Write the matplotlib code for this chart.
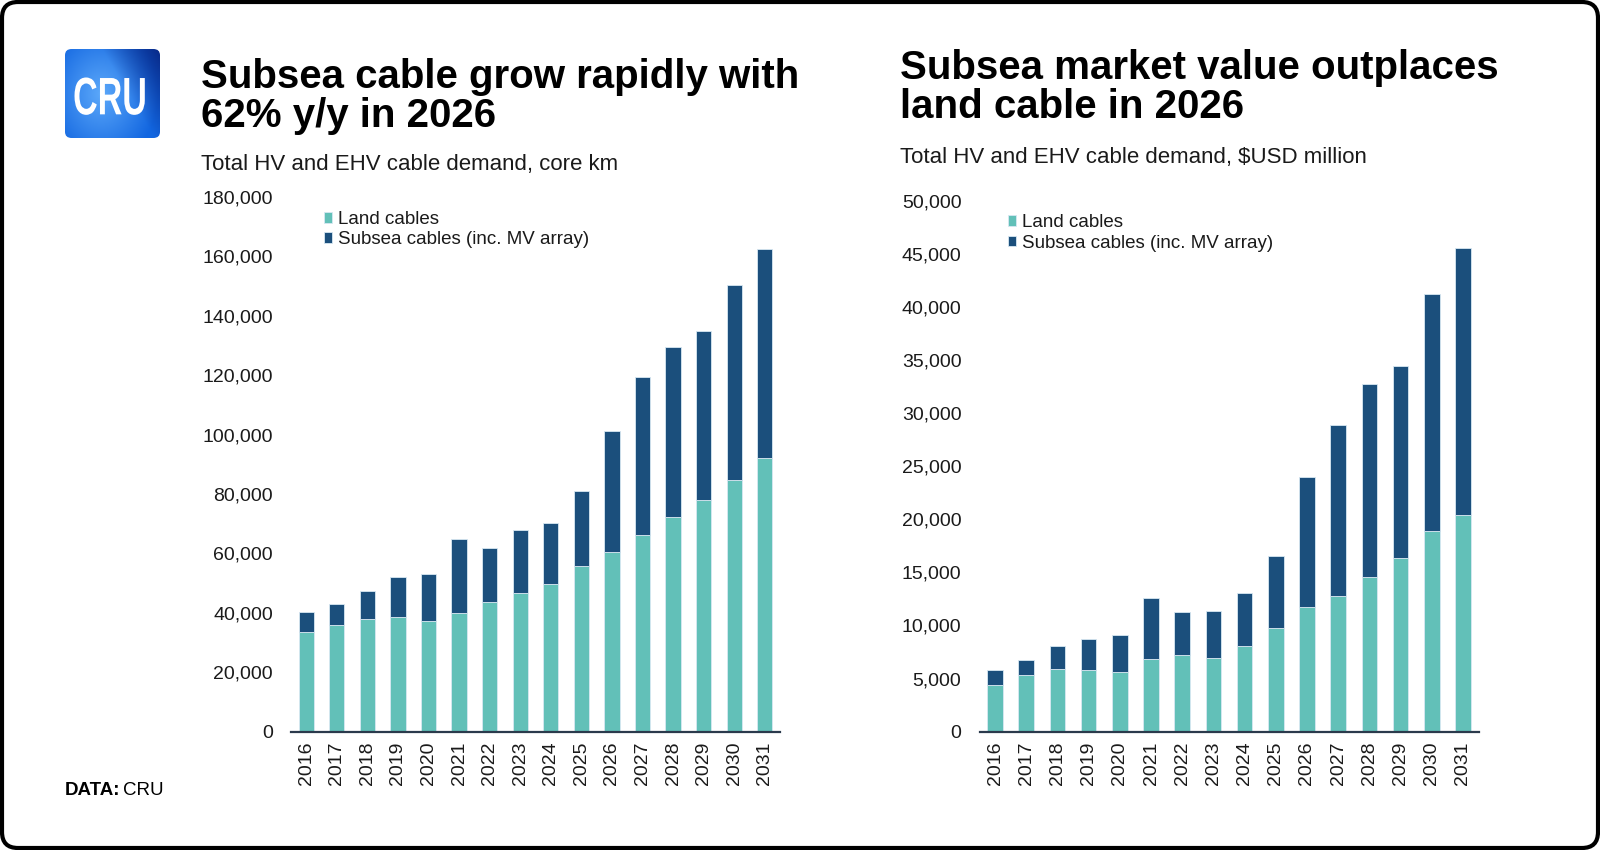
import matplotlib
matplotlib.use('Agg')
import matplotlib.pyplot as plt
import numpy as np
from matplotlib.patches import FancyBboxPatch, PathPatch
from matplotlib.textpath import TextPath
from matplotlib.font_manager import FontProperties
from matplotlib.transforms import Affine2D
from matplotlib.ticker import FuncFormatter

plt.rcParams['font.family'] = ['Liberation Sans', 'DejaVu Sans']

years = [str(y) for y in range(2016, 2032)]

# core km
land_km = [33400, 35900, 37900, 38700, 37300, 40100, 43600, 46500,
           49800, 55700, 60400, 66300, 72300, 77900, 84800, 92100]
subsea_km = [6800, 7000, 9300, 13200, 15900, 24700, 18300, 21300,
             20600, 25300, 40800, 53200, 57300, 57000, 65600, 70500]

# $USD million
land_usd = [4370, 5350, 5940, 5790, 5660, 6830, 7200, 6950,
            8020, 9750, 11760, 12800, 14560, 16320, 18870, 20440]
subsea_usd = [1420, 1440, 2140, 2920, 3460, 5780, 4030, 4440,
              5000, 6760, 12270, 16060, 18200, 18130, 22340, 25170]

LAND = '#62c0b8'
SUBSEA = '#1b4f7c'
EDGE = '#d8e8f2'
TXT = '#1a1a1a'

W, H = 1600, 850
fig = plt.figure(figsize=(16, 8.5), dpi=100)


def px(x, y):
    # pixel position (from top-left) -> figure fraction
    return x / W, 1 - y / H


def panel(rect, land, subsea, ymax, step, leg_anchor):
    ax = fig.add_axes(rect)
    x = np.arange(len(years))
    ax.bar(x, land, width=0.5, color=LAND, edgecolor=EDGE, linewidth=0.6,
           label='Land cables')
    ax.bar(x, subsea, width=0.5, bottom=land, color=SUBSEA, edgecolor=EDGE,
           linewidth=0.6, label='Subsea cables (inc. MV array)')
    ax.set_xlim(-0.5, len(years) - 0.5)
    ax.set_ylim(0, ymax)
    ax.set_yticks(np.arange(0, ymax + 1, step))
    ax.yaxis.set_major_formatter(FuncFormatter(lambda v, p: f'{v:,.0f}'))
    ax.set_xticks(x, years, rotation=90)
    for s in ['top', 'right', 'left']:
        ax.spines[s].set_visible(False)
    ax.spines['bottom'].set_color('#2b3a4c')
    ax.spines['bottom'].set_linewidth(1.6)
    ax.tick_params(axis='y', length=0, labelsize=14, pad=13, colors=TXT)
    ax.tick_params(axis='x', length=0, labelsize=14, pad=7, colors=TXT)
    ax.legend(loc='upper left', bbox_to_anchor=leg_anchor, frameon=False,
              fontsize=13.5, handlelength=0.45, handleheight=0.5,
              handletextpad=0.3, labelspacing=0.18, borderpad=0,
              borderaxespad=0, labelcolor=TXT)
    return ax


panel([291 / W, 1 - 731.6 / H, 489 / W, 534.6 / H],
      land_km, subsea_km, 180000, 20000, (0.067, 0.974))
panel([979.5 / W, 1 - 731.6 / H, 499 / W, 530.6 / H],
      land_usd, subsea_usd, 50000, 5000, (0.057, 0.975))

# titles
fig.text(*px(201, 88), 'Subsea cable grow rapidly with', fontsize=29,
         fontweight='bold', color='black', va='baseline')
fig.text(*px(201, 127), '62% y/y in 2026', fontsize=29,
         fontweight='bold', color='black', va='baseline')
fig.text(*px(201, 170), 'Total HV and EHV cable demand, core km',
         fontsize=16, color=TXT, va='baseline')

fig.text(*px(900, 79), 'Subsea market value outplaces', fontsize=29,
         fontweight='bold', color='black', va='baseline')
fig.text(*px(900, 118), 'land cable in 2026', fontsize=29,
         fontweight='bold', color='black', va='baseline')
fig.text(*px(900, 163), 'Total HV and EHV cable demand, $USD million',
         fontsize=16, color=TXT, va='baseline')

# source
fig.text(*px(65, 795), 'DATA:', fontsize=13.5, fontweight='bold',
         color='black', va='baseline')
fig.text(*px(123, 795), 'CRU', fontsize=13.5, color='black', va='baseline')

# logo
lax = fig.add_axes([65 / W, 1 - 138 / H, 95 / W, 89 / H])
lax.set_axis_off()
yy, xx = np.mgrid[0:1:200j, 0:1:200j]
r = np.sqrt(((xx - 0.38) / 0.6) ** 2 + ((yy - 0.5) / 0.8) ** 2)
t = np.clip(r, 0, 1)[..., None]
bright = np.array([0.36, 0.66, 0.98])
mid = np.array([0.07, 0.40, 0.88])
dark = np.array([0.03, 0.14, 0.50])
img = bright * (1 - t) + mid * t
corner = np.clip((xx * 0.9 + yy * 0.5 - 0.85) / 0.6, 0, 1)[..., None]
img = img * (1 - corner) + dark * corner
im = lax.imshow(img, extent=[0, 1, 0, 1], origin='lower', aspect='auto')
clip = FancyBboxPatch((0, 0), 1, 1, boxstyle='round,pad=0,rounding_size=0.07',
                      transform=lax.transAxes, facecolor='none', edgecolor='none')
lax.add_patch(clip)
im.set_clip_path(clip)
tp = TextPath((0, 0), 'CRU', size=1,
              prop=FontProperties(family=['Liberation Sans Narrow', 'Liberation Sans'],
                                  weight='bold'))
bb = tp.get_extents()
tr = (Affine2D().translate(-bb.x0, -bb.y0)
      .scale(0.74 / bb.width, 0.42 / bb.height).translate(0.1, 0.26)
      + lax.transAxes)
lax.add_patch(PathPatch(tp, facecolor='white', edgecolor='none', transform=tr))

# outer frame
fig.add_artist(FancyBboxPatch((0.02, 0.02), 15.96, 8.46,
                              boxstyle='round,pad=0,rounding_size=0.16',
                              transform=fig.dpi_scale_trans, fill=False,
                              edgecolor='black', linewidth=3))

fig.savefig('out.png', dpi=100, facecolor='white')
